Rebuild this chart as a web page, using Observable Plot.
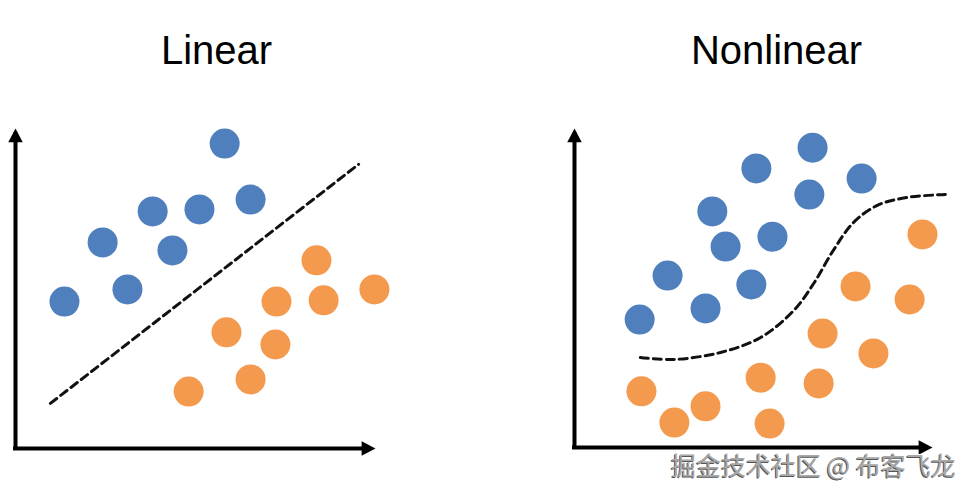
<!DOCTYPE html>
<html>
<head>
<meta charset="utf-8">
<script src="https://cdn.jsdelivr.net/npm/d3@7"></script>
<script src="https://cdn.jsdelivr.net/npm/@observablehq/plot@0.6"></script>
<style>
  html, body { margin: 0; padding: 0; background: #fff; }
  #wrap { position: relative; width: 973px; height: 495px; overflow: hidden; background: #fff; }
  #left, #right { position: absolute; top: 0; }
  #left { left: 0; }
  #right { left: 487px; }
  #wm { position: absolute; left: 671px; top: 449px; font-family: "Noto Sans CJK SC", sans-serif; font-size: 25px; line-height: 30px; color: #a8a8a8; white-space: nowrap;
        text-shadow: -1px 1px 0 #555, 1px -1px 0 #fff; }
</style>
</head>
<body>
<div id="wrap">
  <div id="left"></div>
  <div id="right"></div>
  <div id="wm">掘金技术社区 @ 布客飞龙</div>
</div>
<script>
// ---- data (chart units 0..100 on both axes) ----
const titles = ["Linear", "Nonlinear"];

const linearBlue = [[58.1,95.3],[65.3,77.8],[38.1,74.1],[51.1,74.7],[24.2,64.4],[43.6,61.9],[31.1,49.7],[13.6,45.9]];
const linearOrange = [[83.6,58.8],[99.7,49.7],[72.5,45.9],[85.6,46.3],[58.6,36.3],[72.2,32.5],[65.3,21.6],[48.1,17.8]];
const linearBoundary = [[9.7,14.1],[95.3,88.8]];

const nonlinearBlue = [[66.5,94.0],[50.8,87.5],[80.2,84.3],[65.6,79.3],[38.5,74.0],[55.3,66.1],[42.2,63.0],[26.0,53.9],[49.4,51.1],[36.6,43.6],[18.2,40.1]];
const nonlinearOrange = [[97.2,66.8],[78.5,50.5],[93.6,46.4],[69.3,35.7],[83.5,29.5],[52.0,21.9],[68.2,20.1],[18.7,17.6],[36.6,12.9],[27.9,7.8],[54.5,7.5]];
const nonlinearBoundary = [[18.4,28.2],[27.7,27.6],[40.8,29.8],[52.0,34.5],[61.2,42.9],[66.8,51.4],[72.3,61.8],[77.9,70.5],[84.6,75.9],[93.0,78.4],[103.6,79.3]];

const colors = { blue: "#4F7FBC", orange: "#F39A4E" };
const axisMax = 100;

// arrowhead symbols with tip at origin
const arrowUp = { draw(ctx, size) { const r = Math.sqrt(size / Math.PI); const h = 2.1 * r, w = 1.1 * r;
  ctx.moveTo(0, 0); ctx.lineTo(-w, h); ctx.lineTo(w, h); ctx.closePath(); } };
const arrowRight = { draw(ctx, size) { const r = Math.sqrt(size / Math.PI); const h = 2.1 * r, w = 1.1 * r;
  ctx.moveTo(0, 0); ctx.lineTo(-h, -w); ctx.lineTo(-h, w); ctx.closePath(); } };

function panel({title, blue, orange, boundary, curve, margins, titleDx}) {
  const pts = (arr) => arr.map(([x, y]) => ({x, y}));
  return Plot.plot({
    width: 486, height: 495,
    ...margins,
    x: {domain: [0, axisMax], axis: null},
    y: {domain: [0, axisMax], axis: null},
    style: {background: "transparent", overflow: "visible"},
    marks: [
      Plot.ruleX([0], {y1: 0, y2: axisMax - 2, stroke: "#000", strokeWidth: 4, strokeLinecap: "square"}),
      Plot.ruleY([0], {x1: 0, x2: axisMax - 2, stroke: "#000", strokeWidth: 4, strokeLinecap: "square"}),
      Plot.dot([{x: 0, y: axisMax}], {x: "x", y: "y", symbol: arrowUp, r: 6.6, fill: "#000", stroke: "none"}),
      Plot.dot([{x: axisMax, y: 0}], {x: "x", y: "y", symbol: arrowRight, r: 6.6, fill: "#000", stroke: "none"}),
      Plot.line(pts(boundary), {x: "x", y: "y", curve, stroke: "#111", strokeWidth: 3, strokeDasharray: "8,5"}),
      Plot.dot(pts(blue), {x: "x", y: "y", r: 15, fill: colors.blue, stroke: "none"}),
      Plot.dot(pts(orange), {x: "x", y: "y", r: 15, fill: colors.orange, stroke: "none"}),
      Plot.text([title], {frameAnchor: "top", text: d => d, dx: titleDx, dy: -77, fontSize: 40,
        fontFamily: "Liberation Sans, Arial, sans-serif", fill: "#000", lineAnchor: "middle"})
    ]
  });
}

document.getElementById("left").appendChild(panel({
  title: titles[0], blue: linearBlue, orange: linearOrange, boundary: linearBoundary, curve: "linear",
  margins: {marginLeft: 15, marginRight: 111, marginTop: 128, marginBottom: 47}, titleDx: 21
}));
document.getElementById("right").appendChild(panel({
  title: titles[1], blue: nonlinearBlue, orange: nonlinearOrange, boundary: nonlinearBoundary, curve: "catmull-rom",
  margins: {marginLeft: 87, marginRight: 41, marginTop: 128, marginBottom: 48}, titleDx: 23
}));
</script>
</body>
</html>
